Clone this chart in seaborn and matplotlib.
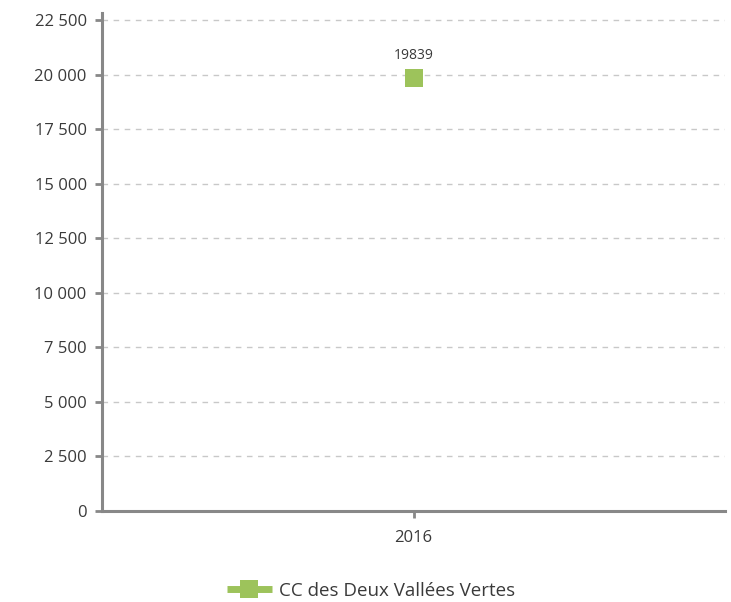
import matplotlib
matplotlib.use("Agg")
import matplotlib.pyplot as plt
from matplotlib.lines import Line2D
from matplotlib.ticker import FuncFormatter
import seaborn as sns
import pandas as pd

years = [2016]
values = [19839]
series_name = "CC des Deux Vallées Vertes"
y_ticks = [0, 2500, 5000, 7500, 10000, 12500, 15000, 17500, 20000, 22500]

GREEN = "#9dc35b"
GRAY = "#888888"
TEXT = "#3a3a3a"

sns.set_theme(style="white")
plt.rcParams["font.family"] = ["Open Sans", "DejaVu Sans"]

df = pd.DataFrame({"year": years, "value": values, "series": series_name})

fig = plt.figure(figsize=(7.31, 6.02), dpi=100)
ax = fig.add_axes([102/731, 1-511/602, (725-102)/731, (511-13)/602])

sns.lineplot(data=df, x="year", y="value", ax=ax, color=GREEN, marker="s",
             markersize=13, markeredgewidth=0, legend=False)

ax.set_xlim(years[0]-1, years[0]+1)
ax.set_ylim(0, 22820)
ax.set_yticks(y_ticks)
ax.yaxis.set_major_formatter(FuncFormatter(lambda v, p: f"{int(v):,}".replace(",", " ")))
ax.set_xticks(years)
ax.set_xticklabels([str(y) for y in years])
ax.set_xlabel("")
ax.set_ylabel("")

ax.grid(axis="y", color="#c8c8c8", linestyle=(0, (4, 4)), linewidth=1)
ax.set_axisbelow(True)
for s in ["top", "right"]:
    ax.spines[s].set_visible(False)
for s in ["left", "bottom"]:
    ax.spines[s].set_color(GRAY)
    ax.spines[s].set_linewidth(2.2)
ax.tick_params(axis="both", which="major", length=5, width=2, color=GRAY,
               labelsize=12, labelcolor=TEXT, pad=6, left=True, bottom=True)
ax.tick_params(axis="x", pad=9)

for x, v in zip(years, values):
    ax.annotate(f"{v}", (x, v), xytext=(0, 11), textcoords="offset points",
                ha="center", va="bottom", fontsize=10, color=TEXT)

handle = Line2D([], [], color=GREEN, lw=5, marker="s", markersize=13,
                markeredgewidth=0, solid_capstyle="butt")
fig.legend([handle], [series_name], loc="center", bbox_to_anchor=(371/731, 1-591/602),
           frameon=False, fontsize=13.5, labelcolor=TEXT, handlelength=2.4, handletextpad=0.4)

fig.savefig("out.png", dpi=100)
